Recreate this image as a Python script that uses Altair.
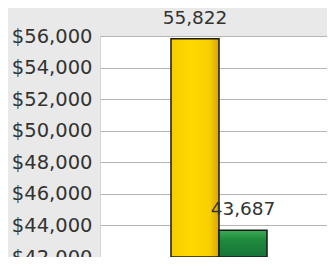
import altair as alt
import pandas as pd

series = ["Series A", "Series B"]
values = [55822, 43687]
y_ticks = [42000, 44000, 46000, 48000, 50000, 52000, 54000, 56000]

df = pd.DataFrame({"series": series, "value": values, "group": ["g", "g"]})

yellow_fill = alt.Gradient(gradient="linear", x1=0, x2=1, y1=0, y2=0, stops=[
    alt.GradientStop(color="#F7CC00", offset=0),
    alt.GradientStop(color="#FFD800", offset=0.4),
    alt.GradientStop(color="#F9CF00", offset=0.8),
    alt.GradientStop(color="#D8A400", offset=1)])
green_fill = alt.Gradient(gradient="linear", x1=0, x2=0, y1=0, y2=1, stops=[
    alt.GradientStop(color="#3BAA55", offset=0),
    alt.GradientStop(color="#1F8B3C", offset=0.35),
    alt.GradientStop(color="#17743A", offset=1)])
fills = [yellow_fill, green_fill]

x = alt.X("group:N", axis=None,
          scale=alt.Scale(paddingInner=0, paddingOuter=0.682, align=0.542))
xo = alt.XOffset("series:N", sort=series,
                 scale=alt.Scale(domain=series, paddingInner=0, paddingOuter=0))
y_scale = alt.Scale(domain=[42000, 56000], nice=False, zero=False)
y_axis = alt.Axis(values=y_ticks, format="$,d", title=None,
                  labelFontSize=19.5, labelFont="DejaVu Sans",
                  labelColor="#333333", ticks=False, domain=False,
                  labelOverlap=False, labelFlush=False,
                  labelPadding=8, gridColor="#b4b4b4", labelBaseline="middle")

bar_layers = []
for s, f in zip(series, fills):
    bar_layers.append(
        alt.Chart(df).transform_filter(alt.datum.series == s)
        .mark_bar(stroke="#1a1a1a", strokeWidth=1.5, color=f)
        .encode(
            x=x,
            xOffset=xo,
            y=alt.Y("value:Q", scale=y_scale, axis=y_axis),
            y2=alt.datum(42000),
        )
    )

labels = alt.Chart(df).mark_text(dy=-15, baseline="alphabetic", fontSize=18.5,
                                 font="DejaVu Sans", color="#333333").encode(
    x=x,
    xOffset=xo,
    y=alt.Y("value:Q", scale=y_scale, axis=y_axis),
    text=alt.Text("value:Q", format=",d"),
)

chart = alt.layer(*bar_layers, labels).properties(
    width=227, height=221,
    autosize=alt.AutoSizeParams(type="none"),
    padding={"left": 92, "top": 28, "right": 0, "bottom": 0},
    background="#e9e9e9",
).configure_view(fill="white", stroke="#d4d4d4")

chart.save("out.html", embed_options={"renderer": "svg", "actions": False})
